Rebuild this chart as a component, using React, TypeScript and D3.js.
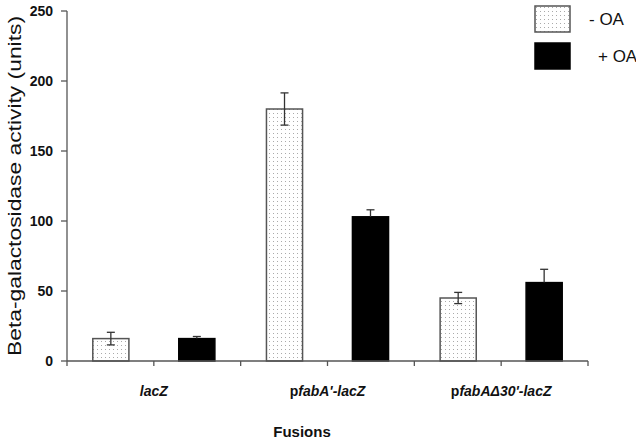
import React from 'react';
import { scaleBand, scaleLinear } from 'd3';

const categories = ['lacZ', "pfabA'-lacZ", "pfabAΔ30'-lacZ"];
const seriesNames = ['- OA', '+ OA'];
const minusOA = [16, 180, 45];
const minusOAErr = [4.5, 11.5, 4];
const plusOA = [16, 103, 56];
const plusOAErr = [1.5, 5, 9.5];
const yTicks = [0, 50, 100, 150, 200, 250];

const width = 636;
const height = 443;
const left = 67;
const right = 588;
const top = 11;
const bottom = 361;

const App = () => {
  const x = scaleBand<string>().domain(categories).range([left, right]).padding(0);
  const inner = scaleBand<string>()
    .domain(seriesNames)
    .range([0, x.bandwidth()])
    .paddingInner(0.58)
    .paddingOuter(0.3);
  const y = scaleLinear().domain([0, 250]).range([bottom, top]);

  const series = [
    { name: seriesNames[0], values: minusOA, errs: minusOAErr, fill: 'url(#dots)' },
    { name: seriesNames[1], values: plusOA, errs: plusOAErr, fill: '#000' },
  ];

  const axisColor = '#555';
  const font = '"Liberation Sans", Arial, sans-serif';

  // x tick positions: category edges and centres
  const xTicks: number[] = [];
  categories.forEach((c) => {
    xTicks.push(x(c)!, x(c)! + x.bandwidth() / 2);
  });
  xTicks.push(right);

  const labelParts = [
    [{ t: 'lacZ', i: true }],
    [{ t: 'p', i: false }, { t: "fabA'-lacZ", i: true }],
    [{ t: 'p', i: false }, { t: "fabAΔ30'-lacZ", i: true }],
  ];

  return (
    <svg width={width} height={height} style={{ position: 'absolute', left: 0, top: 0, background: '#fff' }}>
      <defs>
        <pattern id="dots" width="4" height="4" patternUnits="userSpaceOnUse">
          <rect width="4" height="4" fill="#fff" />
          <rect x="1" y="1" width="1" height="1" fill="#aaa" />
        </pattern>
      </defs>

      {/* bars */}
      {series.map((s) =>
        categories.map((c, i) => {
          const bx = x(c)! + inner(s.name)!;
          const bw = inner.bandwidth();
          const v = s.values[i];
          const cx = bx + bw / 2;
          return (
            <g key={s.name + c}>
              <rect
                x={bx}
                y={y(v)}
                width={bw}
                height={y(0) - y(v)}
                fill={s.fill}
                stroke={s.fill === '#000' ? '#000' : '#555'}
                strokeWidth={1.5}
              />
              <line x1={cx} x2={cx} y1={y(v + s.errs[i])} y2={s.name === '+ OA' ? y(v) : y(v - s.errs[i])} stroke="#333" strokeWidth={1.3} />
              <line x1={cx - 4} x2={cx + 4} y1={y(v + s.errs[i])} y2={y(v + s.errs[i])} stroke="#333" strokeWidth={1.3} />
              {s.name === '- OA' && (
                <line x1={cx - 4} x2={cx + 4} y1={y(v - s.errs[i])} y2={y(v - s.errs[i])} stroke="#333" strokeWidth={1.3} />
              )}
            </g>
          );
        })
      )}

      {/* y axis */}
      <line x1={left} x2={left} y1={top} y2={bottom} stroke={axisColor} strokeWidth={1.3} />
      {yTicks.map((t) => (
        <g key={t}>
          <line x1={left - 6} x2={left} y1={y(t)} y2={y(t)} stroke={axisColor} strokeWidth={1.3} />
          <text x={53} y={y(t)} dy="0.35em" textAnchor="end" fontFamily={font} fontWeight="bold" fontSize={14} fill="#111">
            {t}
          </text>
        </g>
      ))}
      <text
        transform={`translate(21,${(16 + 356) / 2}) rotate(-90)`}
        textAnchor="middle"
        fontFamily={font}
        fontSize={19}
        textLength={340}
        lengthAdjust="spacingAndGlyphs"
        fill="#111"
      >
        Beta-galactosidase activity (units)
      </text>

      {/* x axis */}
      <line x1={left} x2={right} y1={bottom} y2={bottom} stroke={axisColor} strokeWidth={1.3} />
      {xTicks.map((t, i) => (
        <line key={i} x1={t} x2={t} y1={bottom} y2={bottom + 5} stroke={axisColor} strokeWidth={1.3} />
      ))}
      {categories.map((c, i) => (
        <text
          key={c}
          x={x(c)! + x.bandwidth() / 2}
          y={396}
          textAnchor="middle"
          fontFamily={font}
          fontWeight="bold"
          fontSize={14}
          fill="#111"
        >
          {labelParts[i].map((p, j) => (
            <tspan key={j} fontStyle={p.i ? 'italic' : 'normal'}>
              {p.t}
            </tspan>
          ))}
        </text>
      ))}
      <text x={302} y={437} textAnchor="middle" fontFamily={font} fontWeight="bold" fontSize={15} fill="#111">
        Fusions
      </text>

      {/* legend */}
      {series.map((s, i) => (
        <g key={s.name} transform={`translate(535,${6 + i * 37})`}>
          <rect width={35} height={26} fill={s.fill} stroke={s.fill === '#000' ? '#000' : '#555'} strokeWidth={1.5} />
          <text x={i === 0 ? 54 : 63} y={13} dy="0.35em" fontFamily={font} fontSize={17} fill="#111">
            {s.name}
          </text>
        </g>
      ))}
    </svg>
  );
};

export default App;
